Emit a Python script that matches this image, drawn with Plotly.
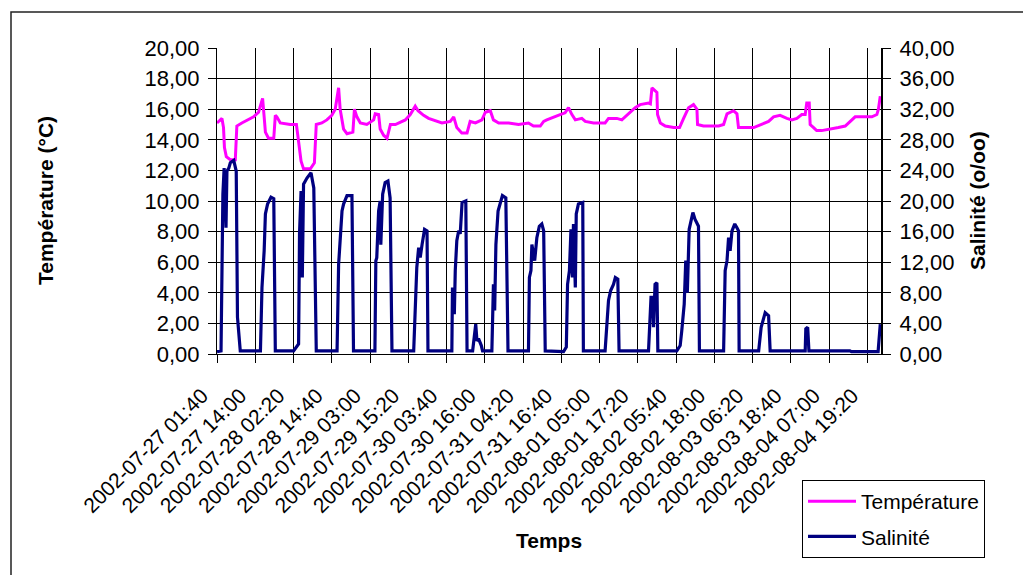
import plotly.graph_objects as go
import pandas as pd

# start of the record, everything below is hours after it
START = "2002-07-27 01:40"

tick_labels = [
    "2002-07-27 01:40", "2002-07-27 14:00", "2002-07-28 02:20", "2002-07-28 14:40",
    "2002-07-29 03:00", "2002-07-29 15:20", "2002-07-30 03:40", "2002-07-30 16:00",
    "2002-07-31 04:20", "2002-07-31 16:40", "2002-08-01 05:00", "2002-08-01 17:20",
    "2002-08-02 05:40", "2002-08-02 18:00", "2002-08-03 06:20", "2002-08-03 18:40",
    "2002-08-04 07:00", "2002-08-04 19:20",
]
x_end = "2002-08-04 23:42"

temp_hours = [
    0.0, 1.6, 2.1, 2.4, 3.0, 4.3, 5.9, 6.4, 8.0, 9.7, 11.8, 13.4, 14.0, 14.7, 15.2,
    15.6, 16.6, 18.3, 18.8, 19.3, 20.4, 23.6, 25.6, 26.3, 27.1, 27.9, 30.1, 31.4,
    32.0, 33.8, 35.4, 37.0, 38.1, 39.2, 39.7, 40.8, 41.9, 43.8, 44.3, 45.1, 46.2,
    48.3, 50.5, 51.0, 52.1, 52.6, 53.7, 54.8, 55.9, 57.5, 60.7, 62.3, 63.9, 64.8,
    66.6, 68.2, 69.8, 72.5, 75.2, 76.3, 77.3, 78.9, 80.6, 81.6, 83.3, 85.4, 86.5,
    88.1, 89.1, 90.8, 94.0, 97.2, 100.4, 102.0, 104.2, 105.3, 106.3, 108.5, 110.6,
    112.2, 113.3, 114.4, 115.5, 117.6, 118.7, 121.4, 125.1, 126.2, 128.9, 130.5,
    132.7, 134.8, 136.4, 139.1, 139.7, 140.2, 141.8, 142.0, 142.9, 144.5, 147.2,
    149.1, 150.4, 152.0, 153.6, 154.7, 154.9, 156.8, 161.7, 163.3, 164.4, 166.5,
    167.6, 168.1, 173.0, 175.6, 177.8, 179.4, 181.5, 183.7, 185.3, 186.9, 188.5,
    189.6, 190.1, 190.9, 191.2, 192.3, 193.3, 194.9, 198.2, 200.3, 202.5, 204.1,
    205.7, 208.9, 211.1, 212.7, 213.2, 213.8,
]
temperature = [
    15.1, 15.4, 14.8, 13.5, 12.9, 12.7, 12.7, 14.9, 15.1, 15.3, 15.5, 15.8, 16.2, 16.7, 15.5,
    14.5, 14.1, 14.1, 15.6, 15.5, 15.1, 15.0, 15.0, 13.7, 12.6, 12.1, 12.1, 12.5,
    15.0, 15.1, 15.3, 15.6, 16.0, 17.4, 16.0, 14.7, 14.4, 14.5, 16.0, 15.5, 15.1,
    15.0, 15.3, 15.7, 15.65, 14.7, 14.3, 14.1, 15.0, 15.0, 15.3, 15.65, 16.2, 15.9,
    15.6, 15.4, 15.3, 15.1, 15.2, 15.5, 14.8, 14.45, 14.45, 15.2, 15.1, 15.3, 15.8,
    15.9, 15.3, 15.1, 15.1, 15.0, 15.1, 14.9, 14.9, 15.2, 15.3, 15.5, 15.65,
    15.76, 16.1, 15.65, 15.3, 15.4, 15.2, 15.1, 15.1, 15.4, 15.4, 15.3,
    15.7, 16.1, 16.3, 16.4, 16.35, 17.4, 17.1, 15.65, 15.1, 14.9, 14.8,
    14.8, 15.4, 16.1, 16.3, 16.0, 15.0, 14.9, 14.9, 15.0, 15.7, 15.9,
    15.7, 14.8, 14.8, 15.0, 15.2, 15.5, 15.6, 15.4, 15.3, 15.4, 15.65,
    15.65, 16.4, 16.4, 15.0, 14.8, 14.6, 14.6, 14.7, 14.8, 14.9, 15.2,
    15.5, 15.5, 15.5, 15.65, 16.0, 16.85,
]

sal_hours = [
    0.0, 1.3, 1.9, 2.3, 2.9, 3.2, 3.8, 4.3, 5.4, 6.2, 6.6, 7.5,
    14.0, 14.5, 15.2, 15.6, 16.3, 17.4, 18.3, 18.8,
    24.7, 26.3, 26.6, 27.1, 27.5, 27.9, 29.0, 30.3, 31.2, 32.0,
    38.7, 39.2, 40.3, 40.8, 41.9, 43.5, 44.0,
    50.9, 51.2, 51.5, 52.1, 52.6, 52.8, 53.4, 54.2, 55.1, 55.8, 56.4,
    63.4, 63.9, 64.4, 65.0, 65.5, 66.1, 66.9, 67.7, 68.0,
    75.7, 75.9, 76.5, 76.8, 77.3, 77.9, 78.4, 79.0, 80.2, 80.6,
    82.4, 82.9, 83.4, 83.8, 84.3, 85.2, 85.6,
    88.6, 89.1, 89.5, 89.9, 90.6, 91.3, 92.0, 93.1, 93.8,
    100.4, 100.7, 101.2, 101.5, 102.4, 103.1, 103.9, 104.7, 105.3, 105.8,
    111.7, 112.6, 113.0, 113.6, 114.1, 114.6, 114.9, 115.5, 115.8, 116.5, 117.9, 118.1,
    125.1, 125.7, 126.2, 126.9, 127.8, 128.4, 129.2, 129.6,
    139.1, 139.9, 140.5, 140.7, 141.2, 141.8, 142.1,
    148.2, 149.3, 149.8, 150.6, 151.1, 151.6, 152.2, 152.7, 153.4, 154.1, 154.7, 155.2, 155.5,
    163.3, 163.8, 164.4, 164.9, 165.4, 166.0, 166.9, 167.6, 168.1, 168.3,
    174.6, 175.4, 176.2, 176.7, 177.8, 178.3,
    189.6, 189.8, 190.4, 190.8,
    204.0, 204.5, 213.1, 213.8,
]
salinity = [
    0.3, 0.4, 20.9, 24.3, 16.5, 23.9, 24.3, 25.0, 25.3, 23.9, 4.8, 0.4,
    0.4, 8.7, 13.5, 18.3, 19.6, 20.5, 20.3, 0.4,
    0.4, 1.3, 15.7, 21.3, 10.0, 22.2, 23.0, 23.7, 21.7, 0.4,
    0.4, 11.7, 18.7, 19.6, 20.7, 20.7, 0.4,
    0.4, 12.2, 12.6, 18.7, 20.0, 14.3, 20.9, 22.4, 22.6, 20.4, 0.4,
    0.4, 7.0, 11.3, 13.9, 12.6, 14.3, 16.3, 16.1, 0.4,
    0.4, 8.7, 5.2, 10.9, 14.8, 16.1, 15.7, 19.8, 20.0, 0.4,
    0.4, 2.6, 3.9, 1.7, 2.0, 1.1, 0.4,
    0.4, 9.1, 5.7, 14.3, 18.7, 19.6, 20.7, 20.4, 0.4,
    0.4, 10.0, 10.9, 14.3, 12.2, 15.2, 16.7, 17.0, 16.1, 0.4,
    0.3, 0.9, 9.1, 10.9, 16.3, 10.0, 17.0, 8.7, 18.3, 19.6, 19.8, 0.4,
    0.4, 3.5, 7.0, 8.3, 9.1, 10.0, 9.8, 0.4,
    0.4, 7.4, 7.4, 3.5, 9.1, 9.3, 0.4,
    0.4, 1.1, 3.0, 6.5, 12.2, 8.0, 16.3, 17.4, 18.5, 17.6, 17.0, 16.7, 0.4,
    0.4, 10.9, 12.2, 15.2, 13.5, 16.1, 17.0, 16.5, 16.1, 0.4,
    0.4, 3.5, 4.8, 5.4, 5.0, 0.4,
    0.4, 3.3, 3.5, 0.4,
    0.4, 0.3, 0.3, 3.9,
]

start = pd.Timestamp(START)
temp_x = start + pd.to_timedelta(temp_hours, unit="h")
sal_x = start + pd.to_timedelta(sal_hours, unit="h")
tick_vals = pd.to_datetime(tick_labels)

FONT = "Arial, Liberation Sans, sans-serif"

fig = go.Figure()
fig.add_trace(go.Scatter(x=temp_x, y=temperature, name="Température", mode="lines",
                         legendgroup="t", line=dict(color="#FF00FF", width=3)))
fig.add_trace(go.Scatter(x=sal_x, y=salinity, name="Salinité", mode="lines",
                         legendgroup="s", line=dict(color="#000080", width=3.2), yaxis="y2"))

# page pixel -> paper coords; the plot box sits at 217..881 x 48..354 on the page
# (the html body adds an 8px margin, so the figure itself is 8px smaller each way)
def px(x):
    return (x - 217) / 664

def py(y):
    return (354 - y) / 306

fig.update_layout(
    width=1023,
    height=567,
    margin=dict(l=209, r=150, t=40, b=221),
    paper_bgcolor="white",
    plot_bgcolor="white",
    separators=", ",
    font=dict(family=FONT, size=21, color="black"),
    xaxis=dict(
        type="date",
        range=[start, pd.Timestamp(x_end)],
        tickmode="array",
        tickvals=tick_vals,
        ticktext=tick_labels,
        tickangle=-45,
        tickfont=dict(size=21),
        ticklabelshift=-15,
        ticklabelstandoff=12,
        showgrid=True, gridcolor="black", gridwidth=1,
        showline=True, linecolor="black", linewidth=1,
        ticks="outside", ticklen=8, tickcolor="black",
        zeroline=False,
    ),
    yaxis=dict(
        range=[0, 20], tick0=0, dtick=2, tickformat=".2f",
        tickfont=dict(size=22), ticklabelstandoff=4,
        showgrid=True, gridcolor="black", gridwidth=1,
        showline=True, linecolor="black", linewidth=1,
        ticks="outside", ticklen=8, tickcolor="black",
        zeroline=False,
    ),
    yaxis2=dict(
        range=[0, 40], tick0=0, dtick=4, tickformat=".2f",
        tickfont=dict(size=22), ticklabelstandoff=4,
        overlaying="y", side="right", showgrid=False,
        showline=True, linecolor="black", linewidth=2,
        ticks="outside", ticklen=8, tickcolor="black",
        zeroline=False,
    ),
    legend=dict(
        x=px(802), y=py(480), xanchor="left", yanchor="top",
        bordercolor="black", borderwidth=1, bgcolor="white",
        itemwidth=48, tracegroupgap=5,
        font=dict(family=FONT, size=21),
    ),
    annotations=[
        dict(text="<b>Température (°C)</b>", x=px(45), y=0.5, xref="paper", yref="paper",
             xanchor="center", yanchor="middle",
             textangle=-90, showarrow=False, font=dict(family=FONT, size=21)),
        dict(text="<b>Salinité (o/oo)</b>", x=px(977), y=0.5, xref="paper", yref="paper",
             xanchor="center", yanchor="middle",
             textangle=-90, showarrow=False, font=dict(family=FONT, size=21)),
        dict(text="<b>Temps</b>", x=0.5, y=py(540), xref="paper", yref="paper",
             xanchor="center", yanchor="middle",
             showarrow=False, font=dict(family=FONT, size=21)),
    ],
    shapes=[
        # chart frame, runs off the right and bottom edges like the original
        dict(type="rect", xref="paper", yref="paper",
             x0=px(11), x1=px(1045), y0=py(585), y1=py(12),
             line=dict(color="#222222", width=1.5)),
    ],
)

fig.write_html("out.html")
